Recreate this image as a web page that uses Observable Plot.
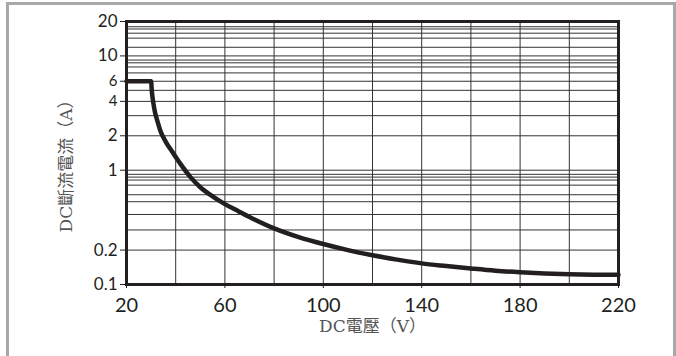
<!DOCTYPE html>
<html><head><meta charset="utf-8">
<script src="https://cdn.jsdelivr.net/npm/d3@7"></script>
<script src="https://cdn.jsdelivr.net/npm/@observablehq/plot@0.6"></script>
<style>
html,body{margin:0;padding:0;background:#fff;}
#wrap{position:relative;width:676px;height:356px;overflow:hidden;}
#border{position:absolute;left:6px;top:2px;width:670px;height:360px;border:3px solid #a8a8a8;border-bottom:none;box-sizing:border-box;}
svg{display:block;}
</style></head>
<body><div id="wrap"><div id="border"></div></div>
<script>
const voltage = [20, 30, 30.3, 30.7, 31.1, 31.6, 32.5, 33.8, 35.9, 38.6, 42, 46, 50, 55, 60, 65, 70, 80, 90, 100, 110, 120, 130, 140, 150, 160, 170, 180, 190, 200, 210, 220];
const current = [6, 6, 4.9, 4.15, 3.65, 3.2, 2.72, 2.2, 1.78, 1.45, 1.13, 0.87, 0.71, 0.59, 0.505, 0.443, 0.39, 0.31, 0.26, 0.226, 0.2, 0.18, 0.165, 0.153, 0.145, 0.138, 0.132, 0.128, 0.125, 0.123, 0.122, 0.1215];
const xTicks = [20, 60, 100, 140, 180, 220];
const yTicksMain = [0.1, 0.2, 1, 2, 10, 20];
const yLabelsMain = ["0.1", "0.2", "1", "2", "10", "20"];
const yTicksSmall = [4, 6];
const yLabelsSmall = ["4", "6"];
const xGrid = [40, 60, 80, 100, 120, 140, 160, 180, 200];
const yGrid = [18, 17.2, 15.8, 14.3, 11.9, 10, 9.2, 8.7, 8, 7.1, 6, 5, 4, 3, 2, 1, 0.92, 0.87, 0.82, 0.74, 0.61, 0.53, 0.41, 0.3, 0.2];
const xTitle = "DC電壓（V）";
const yTitle = "DC斷流電流（A）";

const data = voltage.map((v, i) => ({v, a: current[i]}));
const titleFont = "'DejaVu Serif', 'Noto Sans CJK TC', serif";

const chart = Plot.plot({
  width: 676, height: 356,
  marginLeft: 126, marginRight: 58, marginTop: 21, marginBottom: 72,
  x: {domain: [20, 220]},
  y: {type: "log", domain: [0.1, 20]},
  style: {fontFamily: "Lato, 'Noto Sans', sans-serif", background: "transparent", color: "#231f20"},
  marks: [
    Plot.ruleX(xGrid, {stroke: "#333", strokeWidth: 1}),
    Plot.ruleY(yGrid, {stroke: "#333", strokeWidth: 1}),
    Plot.line(data, {x: "v", y: "a", stroke: "#231f20", strokeWidth: 4.5, curve: "monotone-x"}),
    Plot.frame({stroke: "#231f20", strokeWidth: 3}),
    Plot.axisX(xTicks, {tickSize: 4, tickPadding: 9, fontSize: 20, label: null, text: d => String(d)}),
    Plot.axisY(yTicksMain, {tickSize: 6, tickPadding: 3, fontSize: 17, label: null, text: (d, i) => yLabelsMain[i]}),
    Plot.axisY(yTicksSmall, {tickSize: 6, tickPadding: 3, fontSize: 15, label: null, text: (d, i) => yLabelsSmall[i]}),
    Plot.text([yTitle], {frameAnchor: "left", text: d => d, rotate: -90, dx: -60, dy: 9, textAnchor: "middle", fontSize: 17, fill: "#555", fontFamily: titleFont}),
    Plot.text([xTitle], {frameAnchor: "bottom", text: d => d, dy: 47, textAnchor: "middle", fontSize: 17, fill: "#555", fontFamily: titleFont})
  ]
});
document.getElementById("wrap").prepend(chart);
</script>
</body></html>
